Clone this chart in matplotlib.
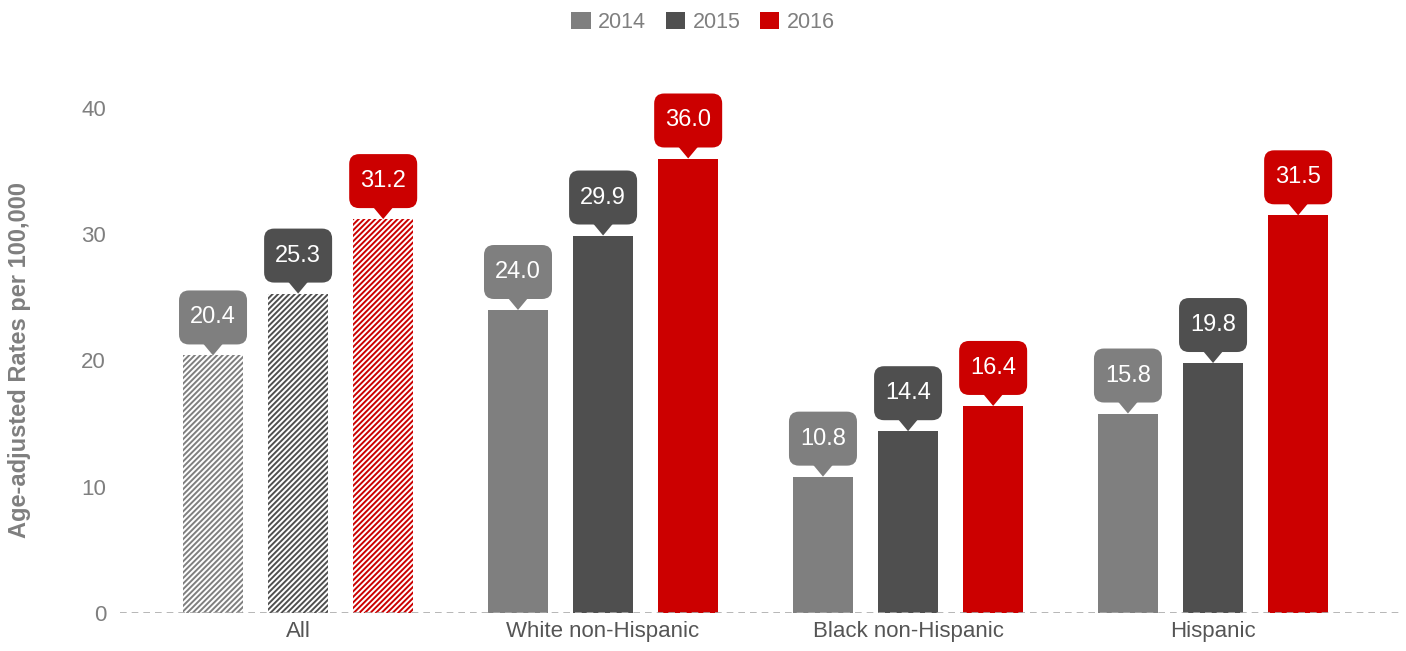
import matplotlib
matplotlib.use("Agg")
import matplotlib.pyplot as plt
import numpy as np
from matplotlib.patches import FancyBboxPatch, Polygon, Patch
from matplotlib.transforms import IdentityTransform

plt.rcParams['font.family'] = ['Liberation Sans', 'DejaVu Sans']
plt.rcParams['hatch.linewidth'] = 1.4

categories = ["All", "White non-Hispanic", "Black non-Hispanic", "Hispanic"]
years = ["2014", "2015", "2016"]
v2014 = [20.4, 24.0, 10.8, 15.8]
v2015 = [25.3, 29.9, 14.4, 19.8]
v2016 = [31.2, 36.0, 16.4, 31.5]
series = [v2014, v2015, v2016]
colors = ["#7f7f7f", "#4f4f4f", "#cc0000"]
yticks = [0, 10, 20, 30, 40]

fig = plt.figure(figsize=(14.06, 6.51), dpi=100)
ax = fig.add_axes([120/1406, 38/651, 1280/1406, 505/651])
ax.set_xlim(-0.584, 3.613)
ax.set_ylim(0, 40)

x = np.arange(len(categories))
offset = 0.279
width = 0.197
bars_all = []
for i, (vals, col) in enumerate(zip(series, colors)):
    pos = x + (i - 1) * offset
    bars = ax.bar(pos, vals, width=width, color=col, edgecolor=col, linewidth=0, zorder=2)
    b = bars[0]
    b.set_facecolor("white")
    b.set_hatch("//////")
    b.set_edgecolor(col)
    bars_all.append((pos, vals, col))

ax.axhline(0, color="#aaaaaa", linestyle=(0, (4, 3)), linewidth=1.2, zorder=3)
for s in ax.spines.values():
    s.set_visible(False)
ax.set_yticks(yticks)
ax.set_yticklabels([str(t) for t in yticks], fontsize=16, color="#7f7f7f")
ax.tick_params(axis='y', length=0, pad=10)
ax.set_xticks(x)
ax.set_xticklabels(categories, fontsize=16, color="#555555")
ax.tick_params(axis='x', length=0, pad=6)
ax.set_ylabel("Age-adjusted Rates per 100,000", fontsize=17, fontweight="bold",
              color="#7f7f7f", labelpad=36)

fig.canvas.draw()
bw, bh, ph, pw, r = 68, 54, 11, 10, 10
for pos, vals, col in bars_all:
    for px, v in zip(pos, vals):
        dx, dy = ax.transData.transform((px, v))
        bottom = dy + ph
        box = FancyBboxPatch((dx - bw/2, bottom), bw, bh,
                             boxstyle=f"round,pad=0,rounding_size={r}",
                             transform=IdentityTransform(), facecolor=col,
                             edgecolor="none", clip_on=False, zorder=5)
        fig.patches.append(box)
        tri = Polygon([(dx - pw, bottom + 1), (dx + pw, bottom + 1), (dx, dy)],
                      closed=True, transform=IdentityTransform(), facecolor=col,
                      edgecolor="none", clip_on=False, zorder=5)
        fig.patches.append(tri)
        fig.text(dx, bottom + bh/2, f"{v:.1f}", transform=IdentityTransform(),
                 ha="center", va="center", color="white", fontsize=17, zorder=6)

handles = [Patch(facecolor=c, edgecolor="none", label=y) for c, y in zip(colors, years)]
leg = fig.legend(handles=handles, loc="upper center", bbox_to_anchor=(0.5, 1.012), ncol=3,
                 frameon=False, fontsize=15.5, handlelength=0.9, handleheight=0.9,
                 handletextpad=0.35, columnspacing=0.9)
for t in leg.get_texts():
    t.set_color("#7f7f7f")

fig.savefig("out.png", dpi=100)
